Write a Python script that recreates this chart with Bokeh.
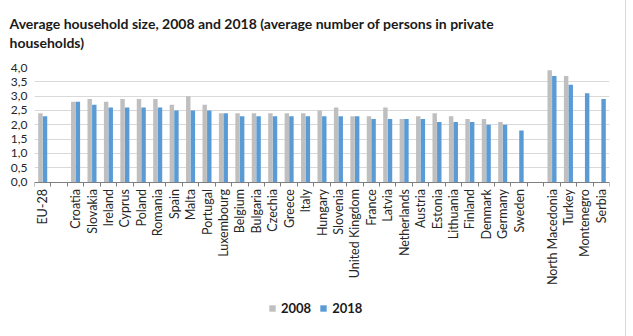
import math
import numpy as np
from bokeh.plotting import figure
from bokeh.models import (ColumnDataSource, Range1d, FixedTicker, CustomJSTickFormatter,
                          LinearAxis, Legend, LegendItem)
from bokeh.core.properties import value
from bokeh.transform import dodge
from bokeh.embed import file_html
from bokeh.resources import INLINE

# Average household size (persons per private household)
countries = ["EU-28",
             "Croatia", "Slovakia", "Ireland", "Cyprus", "Poland", "Romania", "Spain",
             "Malta", "Portugal", "Luxembourg", "Belgium", "Bulgaria", "Czechia", "Greece",
             "Italy", "Hungary", "Slovenia", "United Kingdom", "France", "Latvia",
             "Netherlands", "Austria", "Estonia", "Lithuania", "Finland", "Denmark",
             "Germany", "Sweden",
             "North Macedonia", "Turkey", "Montenegro", "Serbia"]
size_2008 = [2.4,
             2.8, 2.9, 2.8, 2.9, 2.9, 2.9, 2.7,
             3.0, 2.7, 2.4, 2.4, 2.4, 2.4, 2.4,
             2.4, 2.5, 2.6, 2.3, 2.3, 2.6,
             2.2, 2.3, 2.4, 2.3, 2.2, 2.2,
             2.1, None,
             3.9, 3.7, None, None]
size_2018 = [2.3,
             2.8, 2.7, 2.6, 2.6, 2.6, 2.6, 2.5,
             2.5, 2.5, 2.4, 2.3, 2.3, 2.3, 2.3,
             2.3, 2.3, 2.3, 2.3, 2.2, 2.2,
             2.2, 2.2, 2.1, 2.1, 2.1, 2.0,
             2.0, 1.8,
             3.7, 3.4, 3.1, 2.9]
# an empty slot follows each of these categories
group_ends = ["EU-28", "Sweden"]
y_ticks = [0.0, 0.5, 1.0, 1.5, 2.0, 2.5, 3.0, 3.5, 4.0]
y_max = 4.0
title_lines = ["Average household size, 2008 and 2018 (average number of persons in private",
               "households)"]

FONT = "Lato"
GREY = "#BFBFBF"
BLUE = "#5B9BD5"
TEXT = "#1A1A1A"
AXIS = "#7F7F7F"

# canvas layout (pixels)
W, H = 626, 336
TOP, BOTTOM, LEFT, RIGHT = 66, 20, 34, 17
VALUE_AREA = 115          # height of the 0..y_max band
frame_h = H - TOP - BOTTOM
y_min = y_max - y_max * frame_h / VALUE_AREA   # room below zero for the names and legend

# slot index of every category, leaving a blank slot between groups
pos = []
slot = 0
for c in countries:
    pos.append(slot)
    slot += 1
    if c in group_ends:
        slot += 1
n_slots = slot

def as_float(vals):
    return np.array([np.nan if v is None else v for v in vals], dtype=float)

src = ColumnDataSource(dict(x=np.array(pos, dtype=float), name=countries,
                            y08=as_float(size_2008), y18=as_float(size_2018)))

p = figure(width=W, height=H, output_backend="svg", toolbar_location=None,
           x_range=Range1d(-0.5, n_slots - 0.5), y_range=Range1d(y_min, y_max),
           x_axis_location=None,
           min_border_left=LEFT, min_border_right=RIGHT, min_border_top=TOP,
           min_border_bottom=BOTTOM, background_fill_color="white",
           border_fill_color="white", outline_line_color=None,
           styles={"border-right": "1px solid #D9D9D9"})

bw = 0.27
r08 = p.vbar(x=dodge("x", -0.14), top="y08", width=bw, source=src,
             fill_color=GREY, line_color=None)
r18 = p.vbar(x=dodge("x", 0.14), top="y18", width=bw, source=src,
             fill_color=BLUE, line_color=None)

# category axis drawn on the zero line, tick marks on slot boundaries
xa = LinearAxis(fixed_location=0,
                ticker=FixedTicker(ticks=[], minor_ticks=[i - 0.5 for i in range(n_slots + 1)]),
                axis_line_color=AXIS, minor_tick_line_color=AXIS,
                minor_tick_out=4, minor_tick_in=0, major_tick_out=0, major_tick_in=0)
p.add_layout(xa, "below")

# category names, rotated to read upwards, hanging below the axis
p.text(x="x", y=0, text="name", source=src, angle=math.pi / 2,
       text_align="right", text_baseline="middle", y_offset=7,
       text_font=value(FONT), text_font_size="12.5px", text_color="#262626")

ya = p.yaxis[0]
ya.ticker = FixedTicker(ticks=y_ticks)
ya.formatter = CustomJSTickFormatter(code="return tick.toFixed(1).replace('.', ',');")
ya.axis_line_color = None
ya.major_tick_line_color = None
ya.major_tick_out = 0
ya.major_tick_in = 0
ya.minor_tick_line_color = None
ya.major_label_standoff = 7
ya.major_label_text_font = FONT
ya.major_label_text_font_size = "12px"
ya.major_label_text_color = "#262626"

p.xgrid.grid_line_color = None
p.ygrid.grid_line_color = "#D9D9D9"
p.ygrid.grid_line_width = 1

# two-line title, hung from the top of the canvas
p.title.text = "\n".join(title_lines)
p.title.align = "left"
p.title.vertical_align = "top"
p.title.offset = -25
p.title.standoff = 28
p.title.text_font = FONT
p.title.text_font_style = "bold"
p.title.text_font_size = "14px"
p.title.text_line_height = 1.15
p.title.text_color = TEXT

legend = Legend(items=[LegendItem(label="2008", renderers=[r08]),
                       LegendItem(label="2018", renderers=[r18])],
                orientation="horizontal", location=(234, 0),
                glyph_width=8, glyph_height=8, label_height=12, label_width=10,
                label_standoff=5, spacing=8, padding=0, margin=0,
                border_line_color=None, background_fill_alpha=0,
                label_text_font=FONT, label_text_font_style="bold",
                label_text_font_size="13px", label_text_color=TEXT)
p.add_layout(legend, "center")

open("out.html", "w").write(file_html(p, INLINE))
